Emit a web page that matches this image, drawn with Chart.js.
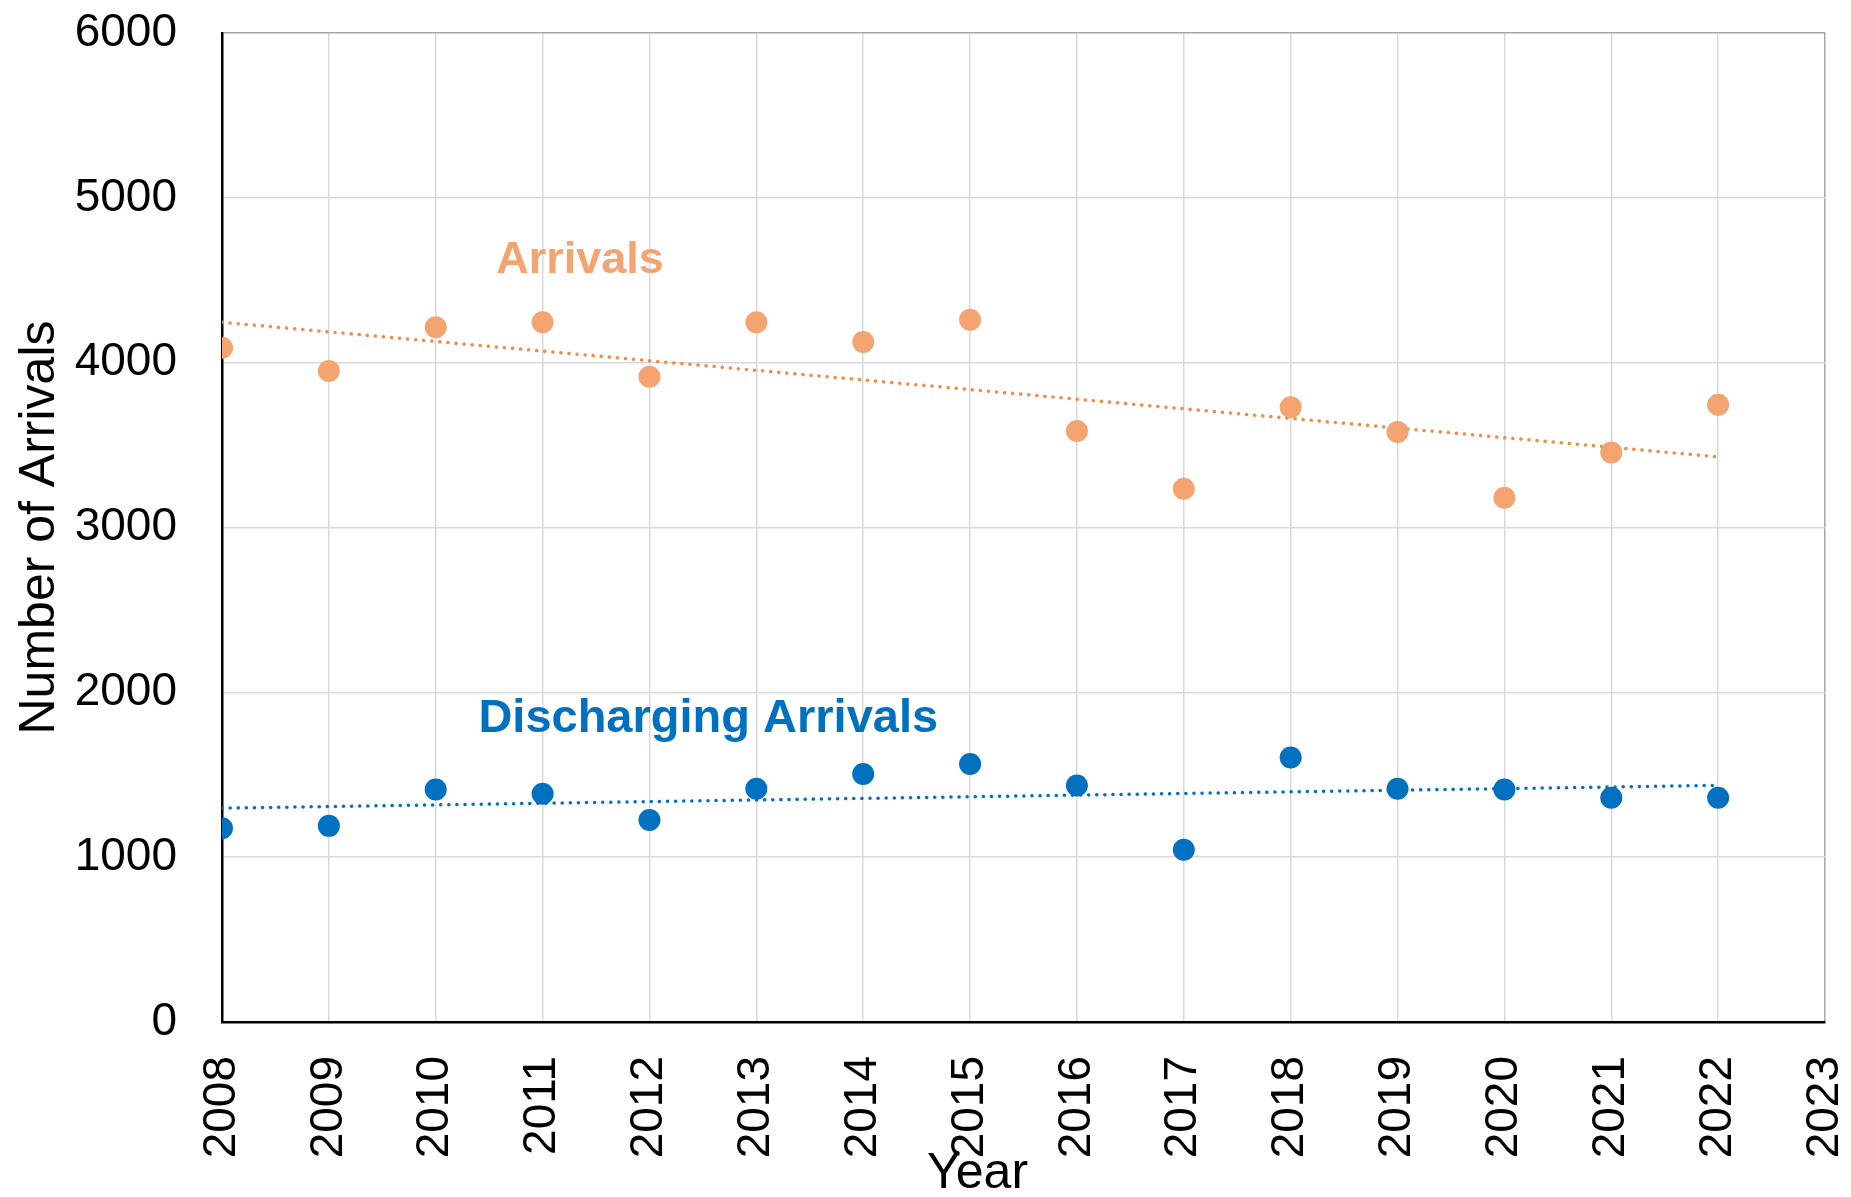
<!DOCTYPE html>
<html>
<head>
<meta charset="utf-8">
<script src="https://cdn.jsdelivr.net/npm/chart.js@4"></script>
<style>
  html, body { margin: 0; padding: 0; background: #fff; }
  #wrap { width: 1851px; height: 1197px; }
</style>
</head>
<body>
<div id="wrap"><canvas id="myChart" width="1851" height="1197"></canvas></div>
<script>
  const years = [2008, 2009, 2010, 2011, 2012, 2013, 2014, 2015, 2016, 2017, 2018, 2019, 2020, 2021, 2022];
  const arrivals = [4090, 3950, 4215, 4245, 3915, 4245, 4125, 4260, 3585, 3235, 3730, 3580, 3180, 3455, 3745];
  const discharging = [1175, 1190, 1410, 1385, 1225, 1415, 1505, 1565, 1435, 1045, 1605, 1415, 1410, 1360, 1360];
  const yTicks = [0, 1000, 2000, 3000, 4000, 5000, 6000];

  const orange = '#F4A470';
  const orangeLine = '#F28A4C';
  const blue = '#0070C0';
  const FONT = "'Liberation Sans', Arial, sans-serif";

  // linear trendline (least squares) from a series
  function trend(xs, ys) {
    let n = xs.length, sx = 0, sy = 0, sxy = 0, sxx = 0;
    for (let i = 0; i < n; i++) {
      sx += xs[i]; sy += ys[i]; sxy += xs[i] * ys[i]; sxx += xs[i] * xs[i];
    }
    let b = (n * sxy - sx * sy) / (n * sxx - sx * sx);
    let a = (sy - b * sx) / n;
    let x0 = xs[0], x1 = xs[n - 1];
    return [{x: x0, y: a + b * x0}, {x: x1, y: a + b * x1}];
  }

  function pts(ys) {
    return years.map((y, i) => ({x: y, y: ys[i]}));
  }

  // series labels inside the plot + x title
  const labelsPlugin = {
    id: 'seriesLabels',
    afterDraw(chart) {
      const c = chart.ctx, xs = chart.scales.x, ys = chart.scales.y;
      c.save();
      c.textAlign = 'center';
      c.textBaseline = 'middle';
      c.font = 'bold 45px ' + FONT;
      c.fillStyle = orange;
      c.fillText('Arrivals', xs.getPixelForValue(2011.35), ys.getPixelForValue(4620));
      c.font = 'bold 47px ' + FONT;
      c.fillStyle = blue;
      c.fillText('Discharging Arrivals', xs.getPixelForValue(2012.55), ys.getPixelForValue(1840));
      c.font = '50px ' + FONT;
      c.fillStyle = '#000';
      c.fillText('Year', xs.getPixelForValue(2015.07), 1174);
      c.restore();
    }
  };

  const ctx = document.getElementById('myChart');

  new Chart(ctx, {
    type: 'scatter',
    data: {
      datasets: [
        {
          label: 'Arrivals',
          data: pts(arrivals),
          backgroundColor: orange,
          borderColor: orange,
          pointRadius: 11,
          pointBorderWidth: 0,
          order: 1
        },
        {
          label: 'Discharging Arrivals',
          data: pts(discharging),
          backgroundColor: blue,
          borderColor: blue,
          pointRadius: 11,
          pointBorderWidth: 0,
          order: 1
        },
        {
          label: 'Arrivals trend',
          type: 'line',
          data: trend(years, arrivals),
          borderColor: orangeLine,
          borderWidth: 3.5,
          borderDash: [0.1, 8],
          borderCapStyle: 'round',
          pointRadius: 0,
          fill: false,
          order: 2
        },
        {
          label: 'Discharging trend',
          type: 'line',
          data: trend(years, discharging),
          borderColor: blue,
          borderWidth: 3.5,
          borderDash: [0.1, 8],
          borderCapStyle: 'round',
          pointRadius: 0,
          fill: false,
          order: 2
        }
      ]
    },
    options: {
      responsive: false,
      animation: false,
      layout: { padding: { top: 33, right: 26, left: 0, bottom: 0 } },
      plugins: {
        legend: { display: false },
        tooltip: { enabled: false }
      },
      scales: {
        x: {
          type: 'linear',
          min: 2008,
          max: 2023,
          afterFit: function (s) {
            s.height = 175;
            s.paddingLeft = 0;
            s.paddingRight = 0;
          },
          grid: {
            color: c => (c.tick && c.tick.value === 2023) ? '#A6A6A6' : '#D9D9D9',
            lineWidth: 1.5,
            drawTicks: false
          },
          border: { color: '#000', width: 2.5 },
          ticks: {
            stepSize: 1,
            minRotation: 90,
            maxRotation: 90,
            padding: 34,
            color: '#000',
            font: { family: FONT, size: 46 },
            callback: v => String(v)
          }
        },
        y: {
          min: 0,
          max: 6000,
          afterFit: function (s) {
            s.width = 222;
            s.paddingTop = 0;
            s.paddingBottom = 0;
          },
          afterBuildTicks: function (s) { s.ticks = yTicks.map(v => ({value: v})); },
          grid: {
            color: c => (c.tick && c.tick.value === 6000) ? '#A6A6A6' : '#D9D9D9',
            lineWidth: 1.5,
            drawTicks: false
          },
          border: { color: '#000', width: 2.5 },
          title: {
            display: true,
            text: 'Number of Arrivals',
            color: '#000',
            font: { family: FONT, size: 50 },
            padding: { top: 10, bottom: 0 }
          },
          ticks: {
            padding: 45,
            color: '#000',
            font: { family: FONT, size: 46 },
            callback: v => String(v)
          }
        }
      }
    },
    plugins: [labelsPlugin]
  });
</script>
</body>
</html>
